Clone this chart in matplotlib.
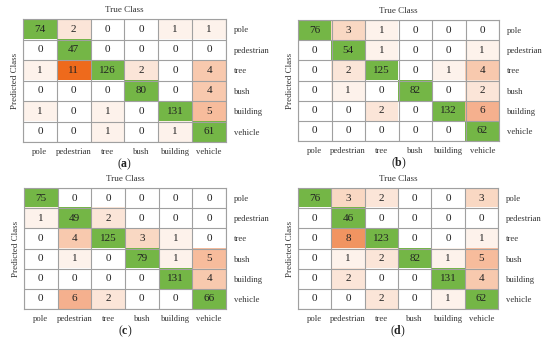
import numpy as np
import matplotlib
matplotlib.use("Agg")
import matplotlib.pyplot as plt
from matplotlib.colors import LinearSegmentedColormap

plt.rcParams['font.family'] = ['Liberation Serif', 'DejaVu Serif']
plt.rcParams['mathtext.fontset'] = 'custom'
plt.rcParams['mathtext.rm'] = 'Liberation Serif'
plt.rcParams['mathtext.bf'] = 'Liberation Serif:bold'

classes = ["pole", "pedestrian", "tree", "bush", "building", "vehicle"]

cm_a = [[74, 2, 0, 0, 1, 1],
        [0, 47, 0, 0, 0, 0],
        [1, 11, 126, 2, 0, 4],
        [0, 0, 0, 80, 0, 4],
        [1, 0, 1, 0, 131, 5],
        [0, 0, 1, 0, 1, 61]]
cm_b = [[76, 3, 1, 0, 0, 0],
        [0, 54, 1, 0, 0, 1],
        [0, 2, 125, 0, 1, 4],
        [0, 1, 0, 82, 0, 2],
        [0, 0, 2, 0, 132, 6],
        [0, 0, 0, 0, 0, 62]]
cm_c = [[75, 0, 0, 0, 0, 0],
        [1, 49, 2, 0, 0, 0],
        [0, 4, 125, 3, 1, 0],
        [0, 1, 0, 79, 1, 5],
        [0, 0, 0, 0, 131, 4],
        [0, 6, 2, 0, 0, 66]]
cm_d = [[76, 3, 2, 0, 0, 3],
        [0, 46, 0, 0, 0, 0],
        [0, 8, 123, 0, 0, 1],
        [0, 1, 2, 82, 1, 5],
        [0, 2, 0, 0, 131, 4],
        [0, 0, 2, 0, 1, 62]]
panel_letters = ["a", "b", "c", "d"]

W, H = 550, 344
fig = plt.figure(figsize=(W / 100, H / 100), dpi=100)

orange = LinearSegmentedColormap.from_list(
    "or", ["#ffffff", "#fbe3d4", "#f8c4a6", "#f5a985", "#f08a4e", "#ee6a1c"])
green_col = "#74b646"

# grid pixel boxes: left, top, right, bottom
boxes = [(23, 19, 226, 142), (298, 20, 499, 141),
         (24, 188, 226, 309), (298, 188, 498, 309)]

for cm, let, (l, t, r, b) in zip([cm_a, cm_b, cm_c, cm_d], panel_letters, boxes):
    arr = np.array(cm, dtype=float)
    n = arr.shape[0]
    rgb = np.ones((n, n, 3))
    for i in range(n):
        for j in range(n):
            if i == j:
                rgb[i, j] = matplotlib.colors.to_rgb(green_col)
            else:
                v = min(arr[i, j], 11) / 11.0
                rgb[i, j] = orange(v)[:3]
    ax = fig.add_axes([l / W, 1 - b / H, (r - l) / W, (b - t) / H])
    ax.imshow(rgb, aspect='auto', interpolation='nearest',
              extent=(-0.5, n - 0.5, n - 0.5, -0.5))
    for k in range(n + 1):
        ax.axhline(k - 0.5, color="#a0a0a0", lw=0.8)
        ax.axvline(k - 0.5, color="#a0a0a0", lw=0.8)
    for i in range(n):
        for j in range(n):
            ax.text(j, i, f"{int(arr[i, j])}", ha='center', va='center',
                    fontsize=8, color="#222222")
    ax.set_xlim(-0.5, n - 0.5)
    ax.set_ylim(n - 0.5, -0.5)
    ax.set_xticks(range(n))
    ax.set_xticklabels(classes, fontsize=6.2)
    ax.set_yticks(range(n))
    ax.set_yticklabels(classes, fontsize=6.2)
    ax.yaxis.tick_right()
    ax.tick_params(axis='x', length=0, pad=4, colors="#333333")
    ax.tick_params(axis='y', length=0, pad=6, colors="#333333")
    for s in ax.spines.values():
        s.set_color("#a0a0a0")
        s.set_linewidth(0.8)
    ax.set_title("True Class", fontsize=6.5, pad=5, color="#333333")
    ax.set_ylabel("Predicted Class", fontsize=6.5, color="#333333", labelpad=3)
    ax.yaxis.set_label_position('left')
    ax.text(0.5, -15 / (b - t), "(" + r"$\mathbf{" + let + "}$" + ")",
            transform=ax.transAxes, ha='center', va='top',
            fontsize=8.5, color="#222222")

fig.savefig("out.png", dpi=100)
